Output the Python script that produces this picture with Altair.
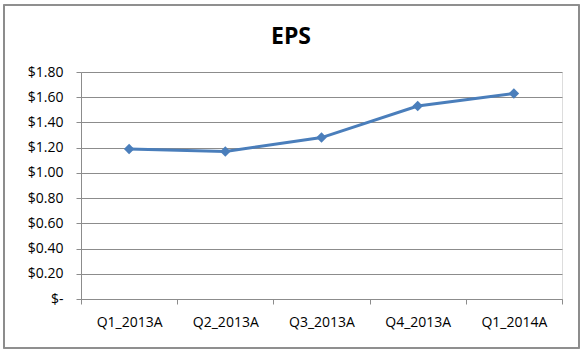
import altair as alt
import pandas as pd

quarters = ["Q1_2013A", "Q2_2013A", "Q3_2013A", "Q4_2013A", "Q1_2014A"]
eps = [1.19, 1.17, 1.28, 1.53, 1.63]
y_ticks = [0, 0.2, 0.4, 0.6, 0.8, 1.0, 1.2, 1.4, 1.6, 1.8]
title_text = ["EPS"]

df = pd.DataFrame({"quarter": quarters, "eps": eps})
title_df = pd.DataFrame({"t": title_text})

FONT = "Open Sans"
BLUE = "#4A7EBB"
GRID = "#8C8C8C"

x_enc = alt.X(
    "quarter:N",
    sort=quarters,
    scale=alt.Scale(paddingInner=0, paddingOuter=0),
    axis=alt.Axis(
        title=None,
        labelAngle=0,
        tickBand="extent",
        tickSize=5,
        tickColor=GRID,
        domainColor=GRID,
        labelPadding=11,
        labelFont=FONT,
        labelFontSize=14,
        labelColor="#000000",
        grid=False,
    ),
)
y_enc = alt.Y(
    "eps:Q",
    scale=alt.Scale(domain=[0, 1.8], nice=False),
    axis=alt.Axis(
        title=None,
        values=y_ticks,
        tickSize=5,
        tickColor=GRID,
        domainColor=GRID,
        gridColor=GRID,
        gridWidth=1,
        labelPadding=13,
        labelFont=FONT,
        labelFontSize=14,
        labelColor="#000000",
        labelExpr="datum.value == 0 ? '$-\u00a0\u00a0\u00a0' : '$' + format(datum.value, '.2f')",
    ),
)

base = alt.Chart(df)

border = base.mark_rect(fill=None, stroke="#8C8C8C", strokeWidth=1.2).encode(
    x=alt.value(-77), x2=alt.value(498), y=alt.value(-67), y2=alt.value(276)
)

title = alt.Chart(title_df).mark_text(
    font=FONT, fontSize=23, fontWeight="bold", color="#000000",
    align="center", baseline="alphabetic"
).encode(text="t:N", x=alt.value(210), y=alt.value(-28))

line = base.mark_line(color=BLUE, strokeWidth=3).encode(x=x_enc, y=y_enc)
points = base.mark_point(
    shape="diamond", filled=True, color=BLUE, size=110, opacity=1
).encode(x=x_enc, y=y_enc)

chart = (
    alt.layer(border, title, line, points)
    .properties(
        width=481,
        height=227,
        autosize=alt.AutoSizeParams(type="none"),
        padding={"left": 81, "top": 72, "right": 21, "bottom": 55},
    )
    .configure_view(stroke=None)
    .configure(background="white")
)

chart.save("out.html", embed_options={"renderer": "svg", "actions": False})
